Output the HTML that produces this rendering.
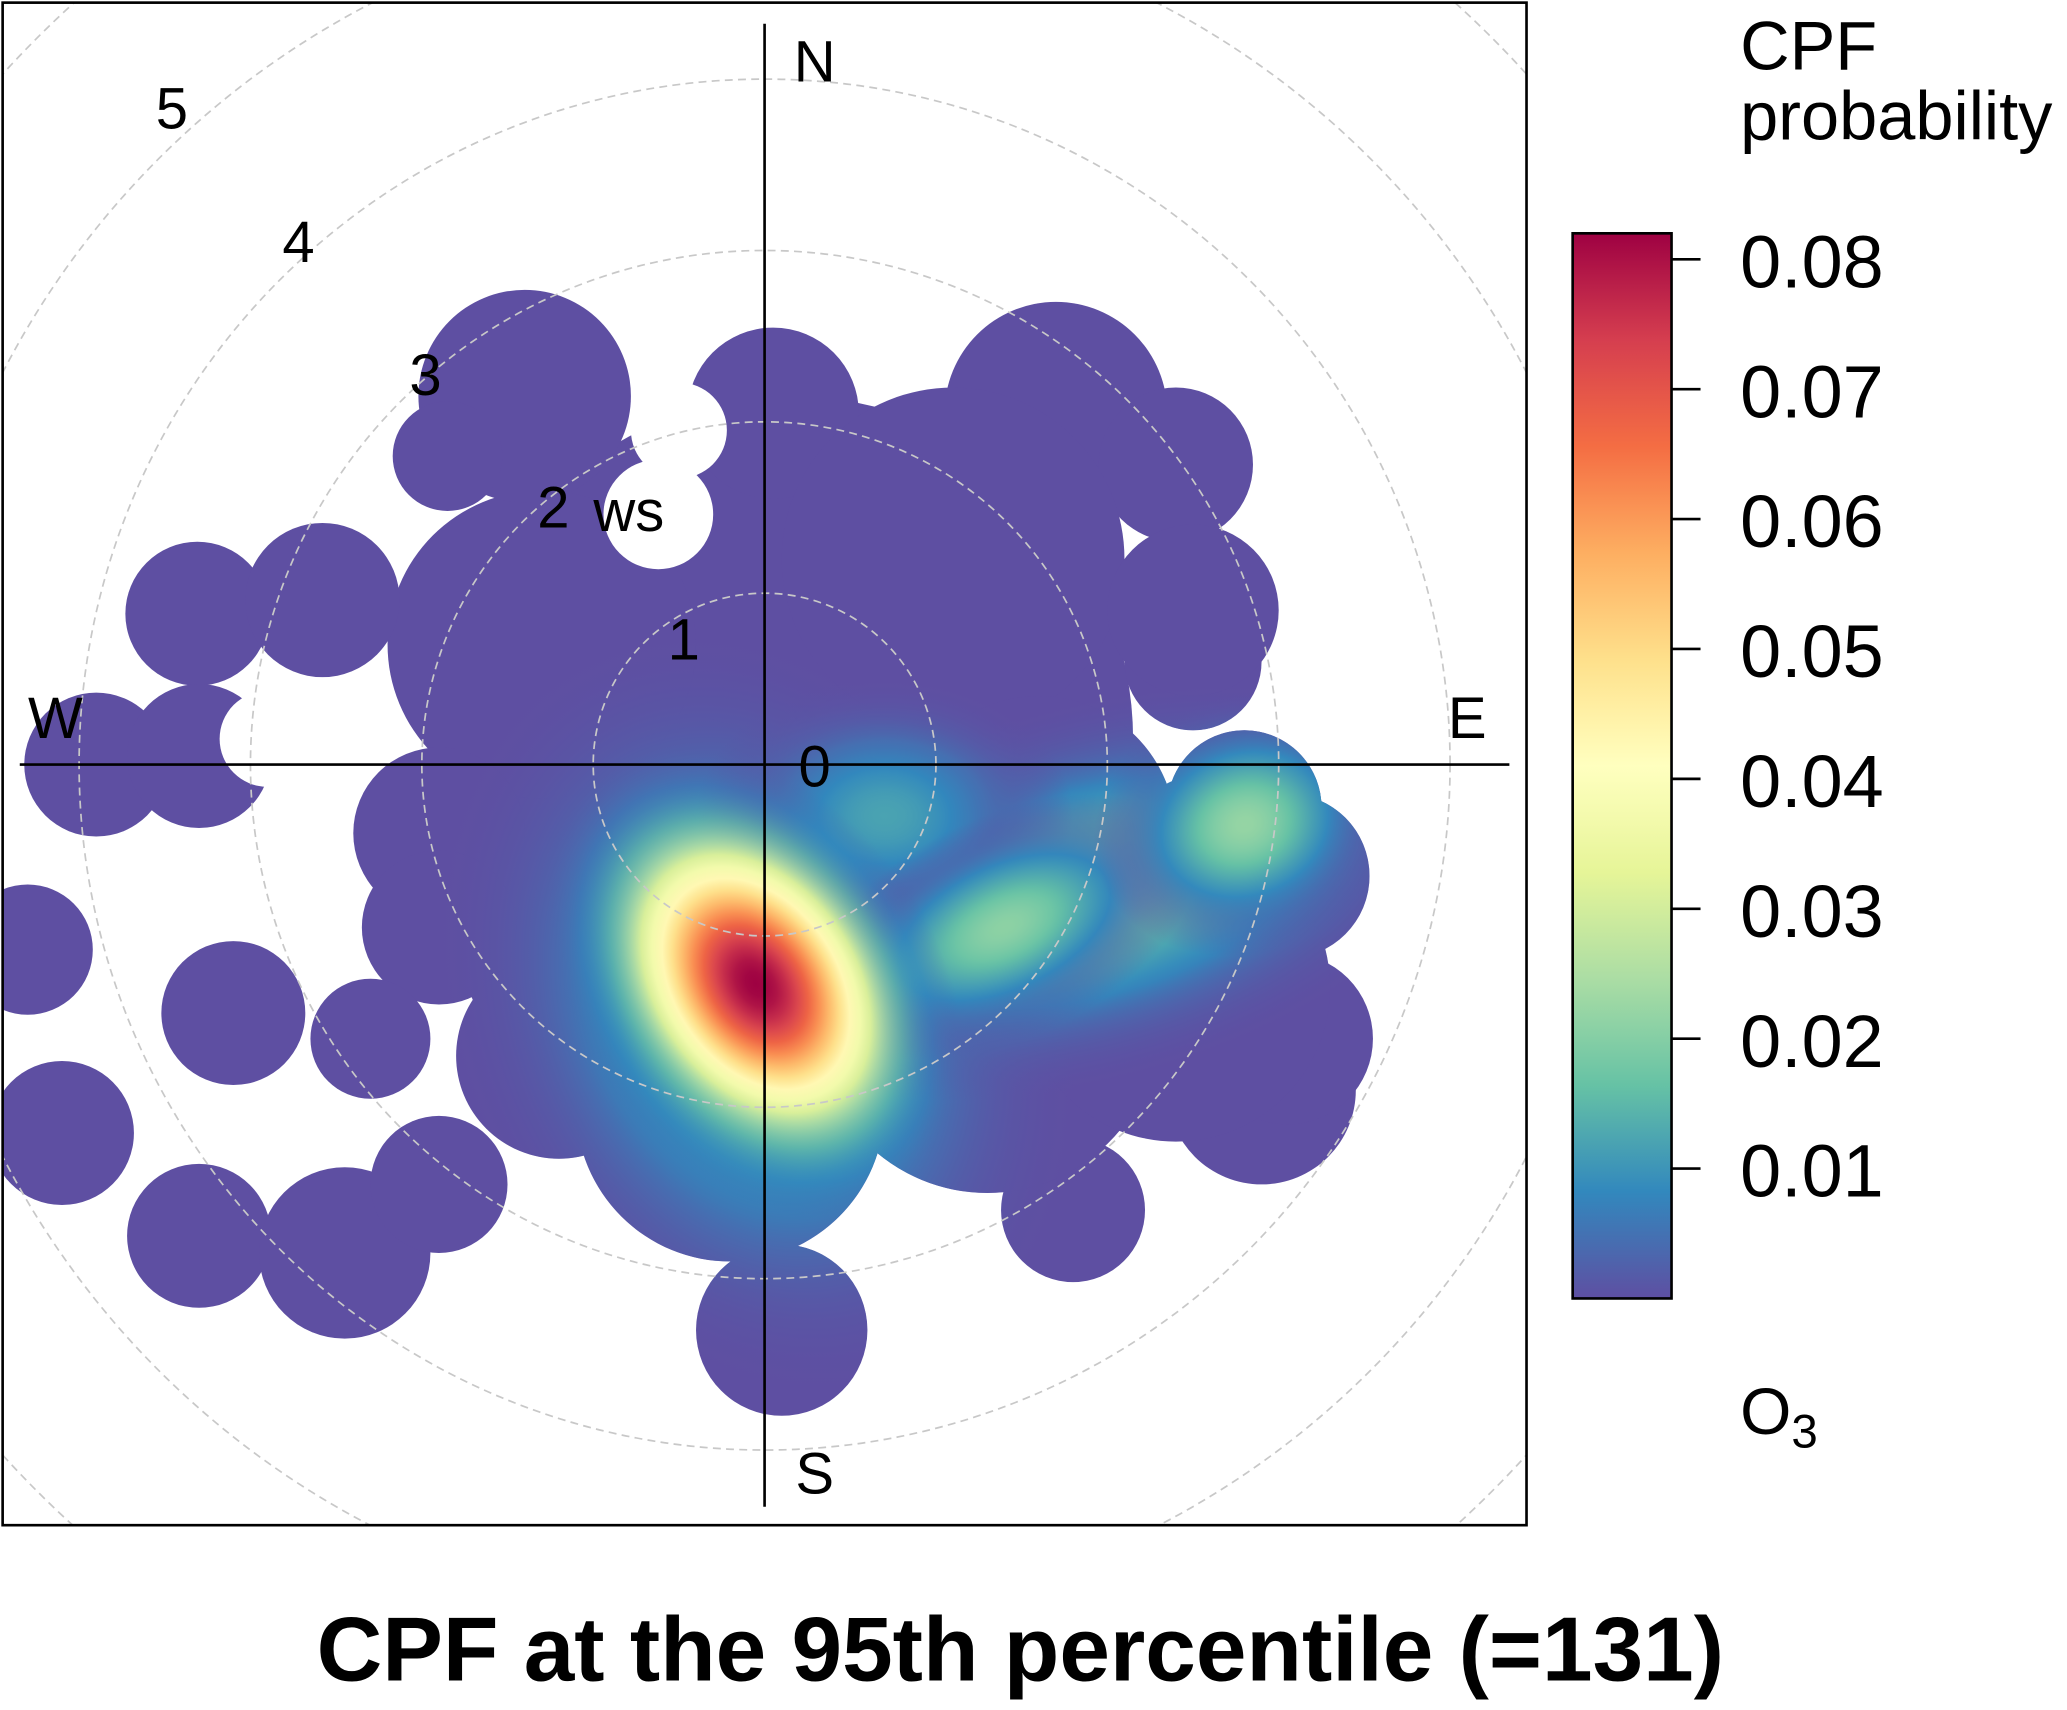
<!DOCTYPE html>
<html><head><meta charset="utf-8">
<style>
html,body{margin:0;padding:0;background:#fff;overflow:hidden;width:2067px;height:1710px;}
svg{display:block;}
text{font-family:"Liberation Sans",Arial,sans-serif;}
</style></head>
<body>
<svg id="chart" width="2067" height="1710" viewBox="0 0 1568 1297.2" preserveAspectRatio="none" xmlns="http://www.w3.org/2000/svg">
<defs>
<clipPath id="boxClip"><rect x="2" y="2" width="1156" height="1155"/></clipPath>
<clipPath id="blobClip"></clipPath>
</defs>
<rect x="2" y="2" width="1156" height="1155" fill="#fff"/>
<g id="purple" clip-path="url(#boxClip)"></g>
<g id="colored" clip-path="url(#blobClip)"></g>
<g id="grid" clip-path="url(#boxClip)"></g>
<g id="axes"></g>
<rect x="2" y="2" width="1156" height="1155" fill="none" stroke="#000" stroke-width="2"/>
<g id="legend"></g>
<text x="774" y="1275" font-size="69" font-weight="bold" text-anchor="middle">CPF at the 95th percentile (=131)</text>
</svg>
<script>
// ---- data (wind-speed space: x = east, y = north, in ws units) ----
const blobX = [0.15,-0.6,-1.3,-1.9,-3.31,-2.58,-3.9,-3.3,-4.3,-3.1,-4.1,-3.3,-2.45,-1.9,-1.4,-1.85,-1.9,0.05,1.7,2.4,0.1,1.8,2.9,1.1,2.5,2.6,2.8,-1.2,-0.2,1.3,-2.3,2.5,3.05,3.05,2.4,1.6];
const blobY = [0.15,-0.9,0.7,-0.4,0.88,0.96,0.0,0.05,-1.08,-1.45,-2.15,-2.75,-2.85,-2.45,2.15,1.8,-0.95,2.05,2.05,1.75,-3.3,-2.6,-1.9,1.2,0.6,-0.6,-0.25,-1.7,-2.0,-1.5,-1.6,0.9,-0.65,-1.6,-1.3,-0.4];
const blobR = [2.0,1.2,0.9,0.5,0.42,0.45,0.42,0.42,0.38,0.42,0.42,0.42,0.5,0.4,0.62,0.32,0.45,0.5,0.65,0.45,0.5,0.42,0.55,1.0,0.4,0.55,0.45,0.6,0.9,1.0,0.35,0.5,0.48,0.5,0.9,0.8];
const holeX = [-0.62,-0.5,-2.9];
const holeY = [1.46,1.95,0.15];
const holeR = [0.32,0.28,0.28];
// concentration hot spots
const hotX = [-0.05,-0.05,1.9,2.8,1.4,0.7];
const hotY = [-1.45,-1.28,-0.75,-0.35,-0.95,-0.3];
const hotPeak = [0.016,0.082,0.02,0.022,0.021,0.012];
const hotRx = [1.75,1.05,2.3,0.9,1.2,1.1];
const hotRy = [2.3,1.5,1.1,0.75,0.65,0.8];
const hotRot = [-25,-35,-15,-20,-25,0];
const ringWs = [1,2,3,4,5,6,7];
const labelWs = [1,2,3,4,5];
const legendTicks = [0.01,0.02,0.03,0.04,0.05,0.06,0.07,0.08];
const legendMin = 0, legendMax = 0.082;
</script>
<script>
(function(){
const NS="http://www.w3.org/2000/svg";
const CX=580, CY=580, U=130;
const sx=v=>CX+v*U, sy=v=>CY-v*U;
const pal=["#5E4FA2","#3288BD","#66C2A5","#ABDDA4","#E6F598","#FFFFBF","#FEE08B","#FDAE61","#F46D43","#D53E4F","#9E0142"];
function hex(h){return [1,3,5].map(i=>parseInt(h.substr(i,2),16));}
function col(v){let t=(v-legendMin)/(legendMax-legendMin);t=Math.max(0,Math.min(1,t))*10;const i=Math.min(9,Math.floor(t)),f=t-i;const a=hex(pal[i]),b=hex(pal[i+1]);return "rgb("+a.map((c,k)=>Math.round(c+(b[k]-c)*f)).join(",")+")";}
function mk(tag,attrs,parent){const e=document.createElementNS(NS,tag);for(const k in attrs)e.setAttribute(k,attrs[k]);parent.appendChild(e);return e;}
const purple=document.getElementById('purple'),clip=document.getElementById('blobClip'),colored=document.getElementById('colored');
const defs=document.querySelector('defs');
for(let i=0;i<blobX.length;i++){
  const c=mk('circle',{cx:sx(blobX[i]),cy:sy(blobY[i]),r:blobR[i]*U,fill:"#5E4FA2"},purple);
  
  
  mk('circle',{cx:sx(blobX[i]),cy:sy(blobY[i]),r:blobR[i]*U},clip);
}
for(let i=0;i<holeX.length;i++){
  const c=mk('circle',{cx:sx(holeX[i]),cy:sy(holeY[i]),r:holeR[i]*U,fill:"#fff"},purple);
  
  
}
const order=[0,2,5,4,3,1];
order.forEach(i=>{
  const id='hg'+i;const g=mk('radialGradient',{id:id},defs);
  for(let s=0;s<=20;s++){const r=s/20;const v=hotPeak[i]*Math.exp(-3.2*r*r);
    mk('stop',{offset:r,'stop-color':col(v),'stop-opacity':(s==20?0:Math.min(1,(1-r)*2.2))},g);}
  const e=mk('ellipse',{cx:0,cy:0,rx:hotRx[i]*U,ry:hotRy[i]*U,fill:'url(#'+id+')',transform:'translate('+sx(hotX[i])+','+sy(hotY[i])+') rotate('+hotRot[i]+')'},colored);
  
  
});
const grid=document.getElementById('grid');
ringWs.forEach(w=>{const c=mk('circle',{cx:CX,cy:CY,r:w*U,fill:'none',stroke:'#c8c8c8','stroke-width':1.3,'stroke-dasharray':'6 4'},grid);
  
  });
const axes=document.getElementById('axes');
const a1=mk('line',{x1:580,y1:18,x2:580,y2:1143,stroke:'#000','stroke-width':2},axes);

const a2=mk('line',{x1:15,y1:580,x2:1145,y2:580,stroke:'#000','stroke-width':2},axes);

function txt(s,x,y,size,parent,name,anchor){const t=mk('text',{x:x,y:y,'font-size':size,'text-anchor':anchor||'middle','dominant-baseline':'central'},parent);t.textContent=s;
  return t;}
txt('N',618,47,44,axes,'north-label');txt('S',618,1118,44,axes,'south-label');
txt('E',1113,545,44,axes,'east-label');txt('W',42,545,44,axes,'west-label');
txt('0',618,582,44,axes,'ws-label-0');
labelWs.forEach(w=>{const a=(133-10*Math.pow(1/w,1.5))*Math.PI/180;const r=139.5*w-27;
  txt(String(w),CX+Math.cos(a)*r,CY-Math.sin(a)*r,44,axes,'ws-label-'+w);});
txt('ws',477,388,44,axes,'ws-unit-label');
// legend
const lg=document.getElementById('legend');
const barTop=177,barBot=985,lx=1193,lw=75;
const lgd=mk('linearGradient',{id:'lgrad',x1:0,y1:1,x2:0,y2:0},defs);
for(let s=0;s<=20;s++){mk('stop',{offset:s/20,'stop-color':col(legendMin+(legendMax-legendMin)*s/20)},lgd);}
const bar=mk('rect',{x:lx,y:barTop,width:lw,height:barBot-barTop,fill:'url(#lgrad)',stroke:'#000','stroke-width':2},lg);

const ly=v=>barBot-(v-legendMin)/(legendMax-legendMin)*(barBot-barTop);
legendTicks.forEach(v=>{const y=ly(v);
  const l=mk('line',{x1:lx+lw,y1:y,x2:lx+lw+22,y2:y,stroke:'#000','stroke-width':2},lg);
  
  txt(v.toFixed(2),1320,y+2,56,lg,'colorbar-tick-label','start');});
txt('CPF',1320,35,52,lg,'legend-title-cpf','start');
txt('probability',1320,88,52,lg,'legend-title-probability','start');
const o=mk('text',{x:1320,y:1088,'font-size':50},lg);
o.textContent='O';const sub=mk('tspan',{'font-size':36,dy:10},o);sub.textContent='3';
})();
</script>
</body></html>
